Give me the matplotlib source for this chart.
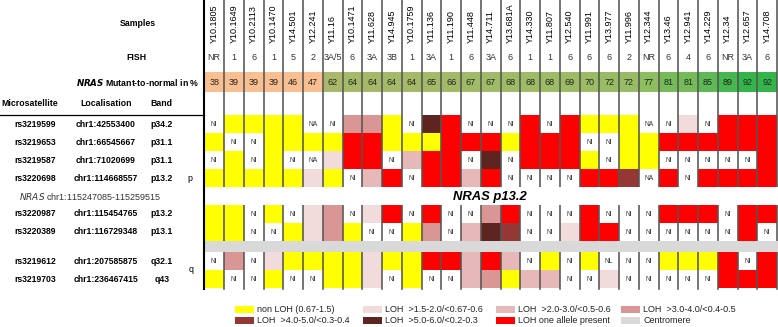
import numpy as np
import matplotlib
matplotlib.use("Agg")
import matplotlib.pyplot as plt
from matplotlib.patches import Rectangle
from matplotlib.colors import LinearSegmentedColormap

plt.rcParams['font.family'] = ['Liberation Sans', 'DejaVu Sans']

# ---- data ----
samples = ['Y10.1805', 'Y10.1649', 'Y10.2113', 'Y10.1470', 'Y14.501', 'Y12.241',
           'Y11.16', 'Y10.1471', 'Y11.628', 'Y14.945', 'Y10.1759', 'Y11.136',
           'Y11.190', 'Y11.448', 'Y14.711', 'Y13.681A', 'Y14.330', 'Y11.807',
           'Y12.540', 'Y11.991', 'Y13.977', 'Y11.996', 'Y12.344', 'Y13.46',
           'Y12.941', 'Y14.229', 'Y12.34', 'Y12.657', 'Y14.708']
fish = ['NR', '1', '6', '1', '5', '2', '3A/5', '6', '3A', '3B', '1', '3A', '1', '6',
        '3A', '6', '1', '1', '6', '6', '6', '2', 'NR', '6', '4', '6', 'NR', '3A', '6']
nras_pct = [38, 39, 39, 39, 46, 47, 62, 64, 64, 64, 64, 65, 66, 67, 67, 68, 68, 68,
            69, 70, 72, 72, 77, 81, 81, 85, 89, 92, 92]

markers = ['rs3219599', 'rs3219653', 'rs3219587', 'rs3220698',
           'rs3220987', 'rs3220389', 'rs3219612', 'rs3219703']
localisation = ['chr1:42553400', 'chr1:66545667', 'chr1:71020699', 'chr1:114668557',
                'chr1:115454765', 'chr1:116729348', 'chr1:207585875', 'chr1:236467415']
bands = ['p34.2', 'p31.1', 'p31.1', 'p13.2', 'p13.2', 'p13.1', 'q32.1', 'q43']

# Y non LOH, N = NI, A = NA, L = NL, 1..5 LOH grades, R one allele present
loh = [
    "N Y Y Y Y A N 3 3 Y N 5 R N N N R N R Y Y Y A N 1 N R R R",
    "Y N N Y Y Y Y R R Y Y Y R R R Y R R R N N Y Y R R R R R R",
    "N Y N Y N A 1 R R N 2 R R N 5 N R R R Y N Y Y N N N N N R",
    "Y Y Y Y Y 1 Y N 2 R N R R 2 R N N N N R R 4 A R N R R R R",
    "Y Y N Y N 1 3 N 1 R N R N N 3 R N N N R N N N R R R N R R",
    "Y Y N N Y 1 3 Y N N Y 3 N 2 5 4 N N 1 R R N N N N N N R N",
    "N 3 N 1 Y Y Y Y 1 Y Y R R 2 R 2 N Y N Y L N N Y Y Y R N R",
    "Y N N Y N N Y Y 1 N Y N N 2 3 Y 2 2 N N 1 N N N N N R R R",
]

legend_codes = ['Y', '1', '2', '3', '4', '5', 'R', 'C']
legend_labels = ['non LOH (0.67-1.5)', 'LOH  >1.5-2.0/<0.67-0.6', 'LOH  >2.0-3.0/<0.5-0.6',
                 'LOH  >3.0-4.0/<0.4-0.5', 'LOH  >4.0-5.0/<0.3-0.4', 'LOH  >5.0-6.0/<0.2-0.3',
                 'LOH one allele present', 'Centromere']

colors = {'Y': '#FFFF00', 'R': '#FF0000', '1': '#F2DCDB', '2': '#E6B9B8',
          '3': '#D99694', '4': '#953735', '5': '#5E2420', 'C': '#D9D9D9'}
cell_text = {'N': 'NI', 'A': 'NA', 'L': 'NL'}

# ---- layout (pixel coords) ----
W, H = 778, 327
X0, CW = 204.3, 19.75
RH = 18.0
row_tops = [115.3, 133.3, 151.3, 169.3, 205.0, 223.0, 252.3, 270.3]
table_bottom = 289
ncol = len(samples)
xc = X0 + CW * (np.arange(ncol) + 0.5)

fig = plt.figure(figsize=(W / 100, H / 100), dpi=100)
ax = fig.add_axes([0, 0, 1, 1])
ax.set_xlim(0, W)
ax.set_ylim(H, 0)
ax.axis('off')

# NRAS mutant-to-normal colour scale
green_cmap = LinearSegmentedColormap.from_list('g', ['#A9B96B', '#8EBE5F', '#33B54A'])
lo, hi = min(p for p in nras_pct if p >= 50), max(nras_pct)
for i, p in enumerate(nras_pct):
    fc = '#F9BF90' if p < 50 else green_cmap((p - lo) / (hi - lo))
    ax.add_patch(Rectangle((X0 + i * CW, 72), CW, 20, fc=fc, ec='none', zorder=1))
    ax.text(xc[i], 82.5, str(p), ha='center', va='center', fontsize=6.5, color='#222222', zorder=5)

# LOH cells
for r, row in enumerate(loh):
    for i, code in enumerate(row.split()):
        if code in colors:
            ax.add_patch(Rectangle((X0 + i * CW, row_tops[r]), CW, RH,
                                   fc=colors[code], ec='none', zorder=1))
        else:
            ax.text(xc[i], row_tops[r] + RH / 2, cell_text[code], ha='center', va='center',
                    fontsize=4.9, color='#333333', zorder=5)

# column lines
for i in range(1, ncol + 1):
    ax.plot([X0 + i * CW] * 2, [0, table_bottom], color='#555555', lw=1.15, zorder=2)
ax.plot([X0, X0], [0, table_bottom], color='black', lw=1.5, zorder=4)

# NRAS gap row and centromere band
ax.add_patch(Rectangle((X0 + 0.8, 187.4), W - X0, 17.5, fc='white', ec='none', zorder=3))
ax.add_patch(Rectangle((X0 + 0.8, 241.0), W - X0, 11.3, fc=colors['C'], ec='none', zorder=3))
ax.text(490, 197, 'NRAS p13.2', ha='center', va='center', fontsize=9.4,
        fontweight='bold', fontstyle='italic', zorder=5)

# header texts
for i in range(ncol):
    ax.text(xc[i], 43, samples[i], rotation=90, ha='center', va='bottom', fontsize=6.5)
    ax.text(xc[i], 57.5, fish[i], ha='center', va='center', fontsize=6.5, color='#333333')

ax.text(138, 23, 'Samples', ha='center', va='center', fontsize=6.3, fontweight='bold')
ax.text(136, 57.5, 'FISH', ha='center', va='center', fontsize=6.3, fontweight='bold')
ax.text(199, 82, r'$\bfit{NRAS}$ Mutant-to-normal in %', ha='right', va='center',
        fontsize=6.3, fontweight='bold')
ax.text(1, 104, 'Microsatellite', ha='left', va='center', fontsize=6.3, fontweight='bold')
ax.text(80, 104, 'Localisation', ha='left', va='center', fontsize=6.3, fontweight='bold')
ax.text(150, 104, 'Band', ha='left', va='center', fontsize=6.3, fontweight='bold')
ax.plot([0, X0], [115.3, 115.3], color='black', lw=0.9)

# row labels
for r in range(len(markers)):
    yy = row_tops[r] + RH / 2
    ax.text(14, yy, markers[r], ha='left', va='center', fontsize=6.2, fontweight='bold')
    ax.text(106, yy, localisation[r], ha='center', va='center', fontsize=6.2, fontweight='bold')
    ax.text(162, yy, bands[r], ha='center', va='center', fontsize=6.2, fontweight='bold')
ax.text(190, 178.5, 'p', ha='center', va='center', fontsize=6.4)
ax.text(191, 270, 'q', ha='center', va='center', fontsize=6.4)
ax.text(19, 197, r'$\it{NRAS}$ chr1:115247085-115259515', ha='left', va='center', fontsize=6.5,
        color='#333333')

# legend
leg_x = [235, 363, 496, 621]
leg_y = [305.7, 316.7]
for k, (code, label) in enumerate(zip(legend_codes, legend_labels)):
    px, py = leg_x[k % 4], leg_y[k // 4]
    ax.add_patch(Rectangle((px, py), 19.5, 7.6, fc=colors[code], ec='none'))
    ax.text(px + 22.5, py + 3.8, label, ha='left', va='center', fontsize=6.5, color='#222222')

fig.savefig('out.png', dpi=100)
